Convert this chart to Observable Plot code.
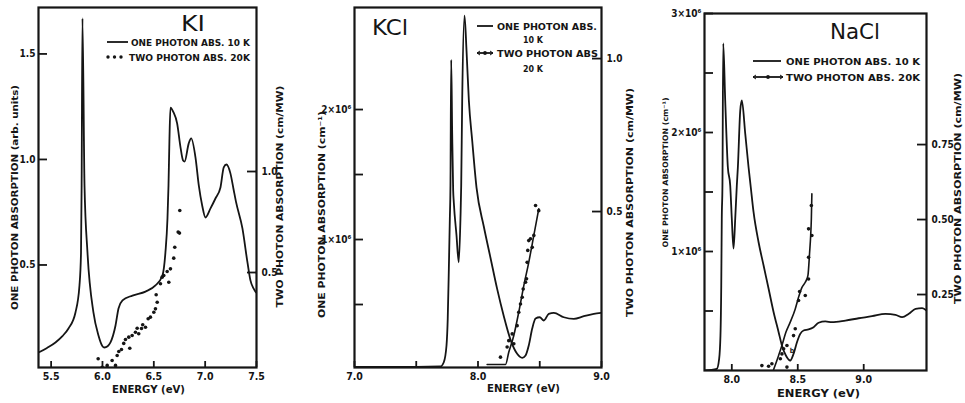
<!DOCTYPE html>
<html><head><meta charset="utf-8">
<script src="https://cdn.jsdelivr.net/npm/d3@7"></script>
<script src="https://cdn.jsdelivr.net/npm/@observablehq/plot@0.6"></script>
<style>
body{margin:0;background:#fff;}
#wrap{position:relative;width:965px;height:403px;overflow:hidden;background:#fff;}
.panel{position:absolute;top:0;}
.panel svg{position:absolute;left:0;top:0;overflow:visible;}
#overlay{position:absolute;left:0;top:0;pointer-events:none;}
</style>
</head><body>
<div id="wrap"></div>
<script>
// ---------------- DATA ----------------
// KI : one photon absorption (arb. units) vs energy (eV)
const kiOneEnergy = [5.377,5.46,5.542,5.61,5.669,5.737,5.776,5.791,5.797,5.805,5.825,5.854,5.912,5.961,6.0,6.019,6.05,6.078,6.127,6.156,6.195,6.292,6.419,6.516,6.584,6.613,6.633,6.643,6.652,6.662,6.69,6.727,6.76,6.785,6.8,6.84,6.864,6.906,6.938,6.971,7.003,7.052,7.1,7.149,7.181,7.207,7.246,7.276,7.3,7.363,7.412,7.441,7.47,7.495];
const kiOneAbs    = [0.085,0.107,0.133,0.163,0.199,0.275,0.403,0.559,0.877,1.668,0.877,0.559,0.275,0.166,0.115,0.109,0.115,0.133,0.213,0.294,0.332,0.355,0.374,0.403,0.45,0.559,0.72,0.877,1.09,1.246,1.225,1.171,1.057,0.995,0.99,1.076,1.1,1.009,0.877,0.782,0.725,0.768,0.815,0.867,0.962,0.976,0.934,0.86,0.8,0.673,0.512,0.427,0.39,0.37];
// KI : two photon absorption (cm/MW)
const kiTwoEnergy = [5.958,5.997,6.046,6.094,6.127,6.143,6.159,6.185,6.207,6.224,6.256,6.266,6.289,6.321,6.338,6.353,6.38,6.392,6.419,6.445,6.467,6.5,6.516,6.523,6.533,6.565,6.581,6.597,6.63,6.646,6.662,6.694,6.704,6.737,6.75,6.753];
const kiTwoAbs    = [0.073,0.031,0.04,0.064,0.04,0.089,0.109,0.119,0.149,0.168,0.18,0.125,0.188,0.204,0.224,0.197,0.223,0.241,0.229,0.271,0.279,0.303,0.32,0.39,0.353,0.444,0.477,0.485,0.505,0.452,0.518,0.571,0.625,0.7,0.695,0.807];

// KCl : one photon absorption (10^6 cm^-1)
const kclOneEnergy = [7.0,7.5,7.696,7.723,7.745,7.755,7.764,7.772,7.777,7.783,7.791,7.799,7.804,7.826,7.844,7.858,7.864,7.872,7.891,7.907,7.926,7.953,7.988,8.047,8.101,8.155,8.209,8.263,8.317,8.358,8.385,8.411,8.439,8.466,8.5,8.533,8.573,8.614,8.695,8.776,8.857,8.938,9.0];
const kclOneAbs    = [0.02,0.02,0.023,0.056,0.185,0.392,0.777,1.162,1.415,2.382,1.815,1.377,1.287,1.031,0.825,1.162,1.415,2.069,2.723,2.454,2.069,1.762,1.4,1.1,0.86,0.62,0.41,0.23,0.121,0.09,0.108,0.185,0.315,0.392,0.402,0.377,0.428,0.436,0.402,0.39,0.41,0.428,0.436];
// KCl : two photon absorption (cm/MW), fitted line and measured points
const kclTwoLineEnergy = [8.074,8.196,8.223,8.249,8.29,8.33,8.371,8.411,8.452,8.492];
const kclTwoLineAbs    = [0,0,0,0.04,0.095,0.171,0.258,0.334,0.422,0.509];
const kclTwoDotEnergy  = [8.182,8.236,8.249,8.277,8.29,8.317,8.33,8.344,8.358,8.366,8.385,8.393,8.398,8.403,8.411,8.425,8.439,8.452,8.466,8.492];
const kclTwoDotAbs     = [0.024,0.057,0.078,0.1,0.068,0.127,0.171,0.198,0.22,0.247,0.269,0.28,0.334,0.373,0.405,0.411,0.383,0.422,0.52,0.503];

// NaCl : one photon absorption (10^6 cm^-1)
const naclOneEnergy = [7.793,7.886,7.904,7.914,7.92,7.924,7.929,7.935,7.95,7.97,7.988,8.0,8.013,8.026,8.038,8.046,8.064,8.076,8.102,8.127,8.144,8.165,8.203,8.241,8.279,8.317,8.355,8.38,8.41,8.443,8.468,8.494,8.519,8.544,8.582,8.62,8.658,8.709,8.759,8.861,8.962,9.063,9.165,9.241,9.291,9.342,9.393,9.443,9.476];
const naclOneAbs    = [0,0.014,0.098,0.294,0.714,1.277,1.555,2.748,2.269,1.708,1.555,1.275,1.025,1.277,1.555,1.708,2.185,2.269,1.989,1.708,1.538,1.33,1.078,0.882,0.687,0.49,0.322,0.21,0.126,0.084,0.14,0.238,0.308,0.336,0.345,0.364,0.401,0.412,0.406,0.42,0.439,0.456,0.476,0.468,0.448,0.476,0.518,0.524,0.504];
// NaCl : two photon absorption (cm/MW)
const naclTwoLineEnergy = [8.317,8.355,8.38,8.41,8.443,8.481,8.506,8.532,8.557,8.577,8.59,8.598,8.603,8.607];
const naclTwoLineAbs    = [0,0.047,0.08,0.124,0.158,0.202,0.241,0.274,0.291,0.313,0.391,0.447,0.502,0.586];
const naclTwoDotEnergy  = [8.228,8.279,8.304,8.368,8.38,8.393,8.418,8.418,8.468,8.481,8.506,8.514,8.557,8.582,8.582,8.582,8.607,8.603];
const naclTwoDotAbs     = [0.013,0.011,0.019,0.036,0.052,0.069,0.08,0.008,0.113,0.136,0.23,0.26,0.247,0.302,0.374,0.469,0.447,0.547];

// ticks
const kiXTicks = [5.5,6.0,6.5,7.0,7.5];
const kiLeftTicks = [0.5,1.0,1.5];
const kiRightTicks = [0.5,1.0];
const kclXTicks = [7.0,7.5,8.0,8.5,9.0];
const kclXLabeled = [7.0,8.0,9.0];
const kclLeftTicks = [0.5,1,1.5,2];
const kclLeftLabeled = [1,2];
const kclRightTicks = [0.5,1.0];
const naclXTicks = [8.0,8.5,9.0];
const naclLeftTicks = [0.5,1,1.5,2,2.5,3];
const naclLeftLabeled = [1,2,3];
const naclRightTicks = [0.25,0.5,0.75];

// texts
const titles = ["KI","KCl","NaCl"];
const energyLabel = "ENERGY (eV)";
const oneLabelKI = "ONE PHOTON ABSORPTION (arb. units)";
const oneLabelCm = "ONE PHOTON ABSORPTION (cm\u207B\u00B9)";
const twoLabel = "TWO PHOTON ABSORPTION (cm/MW)";

// ---------------- BUILD ----------------
const zip = (e, a) => e.map((d, i) => ({e: d, a: a[i]}));
const FONT = '"DejaVu Sans Condensed","Liberation Sans Narrow","DejaVu Sans",sans-serif';
const INK = "#151515";
const f1 = d3.format(".1f");
const f2 = d3.format(".2f");
const sci = labeled => d => labeled.includes(d) ? `${d}\u00D710\u2076` : "";
const lab = labeled => d => labeled.includes(d) ? f1(d) : "";

const panels = [
  {left: 0, width: 300, ml: 38, mr: 44, mt: 7, mb: 36,
   xDomain: [5.377, 7.5], yDomain: [0.0142, 1.72], y2Domain: [0.0297, 1.812],
   one: zip(kiOneEnergy, kiOneAbs), twoDots: zip(kiTwoEnergy, kiTwoAbs), twoLine: null,
   xTicks: kiXTicks, xFmt: f1, yTicks: kiLeftTicks, yFmt: f1, y2Ticks: kiRightTicks, y2Fmt: f1,
   yLabel: oneLabelKI, yLab: {dx: -23, dy: 10, len: 225, size: 8.5},
   y2Lab: {dx: 24, dy: 9, len: 222, size: 8.5},
   xLab: {dx: 1, dy: 22, len: 73}},
  {left: 310, width: 330, ml: 44, mr: 39, mt: 7, mb: 36,
   xDomain: [7.0, 9.0], yDomain: [0.0154, 2.785], y2Domain: [-0.0098, 1.167],
   one: zip(kclOneEnergy, kclOneAbs), twoDots: zip(kclTwoDotEnergy, kclTwoDotAbs), twoLine: zip(kclTwoLineEnergy, kclTwoLineAbs),
   xTicks: kclXTicks, xFmt: lab(kclXLabeled), yTicks: kclLeftTicks, yFmt: sci(kclLeftLabeled), y2Ticks: kclRightTicks, y2Fmt: f1,
   yLabel: oneLabelCm, yLab: {dx: -32, dy: 27, len: 207, size: 8.5},
   y2Lab: {dx: 29, dy: 15, len: 229, size: 8.5},
   xLab: {dx: 45.5, dy: 21, len: 73}},
  {left: 640, width: 325, ml: 64, mr: 39, mt: 13, mb: 33,
   xDomain: [7.793, 9.476], yDomain: [0, 3.0], y2Domain: [-0.0033, 1.187],
   one: zip(naclOneEnergy, naclOneAbs), twoDots: zip(naclTwoDotEnergy, naclTwoDotAbs), twoLine: zip(naclTwoLineEnergy, naclTwoLineAbs),
   xTicks: naclXTicks, xFmt: f1, yTicks: naclLeftTicks, yFmt: sci(naclLeftLabeled), y2Ticks: naclRightTicks, y2Fmt: f2,
   yLabel: oneLabelCm, yLab: {dx: -39, dy: -19.5, len: 150, size: 7.5},
   y2Lab: {dx: 32, dy: -3.5, len: 231, size: 8.5},
   xLab: {dx: 3, dy: 23, len: 83}}
];

function fitTexts(svg, map) {
  svg.querySelectorAll("text").forEach(t => {
    const k = t.textContent;
    if (map[k] !== undefined) {
      t.setAttribute("textLength", map[k]);
      t.setAttribute("lengthAdjust", "spacingAndGlyphs");
    }
  });
}

const wrap = document.getElementById("wrap");
panels.forEach(p => {
  const fw = p.width - p.ml - p.mr;          // frame width (px)
  const fh = 403 - p.mt - p.mb;              // frame height (px)
  const common = {
    width: p.width, height: 403,
    marginLeft: p.ml, marginRight: p.mr, marginTop: p.mt, marginBottom: p.mb,
    style: {fontFamily: FONT, fontSize: "10px", fontWeight: "bold", color: INK, background: "transparent", overflow: "visible"}
  };
  const a = Plot.plot({
    ...common,
    x: {domain: p.xDomain, label: null},
    y: {domain: p.yDomain, label: null},
    marks: [
      Plot.frame({stroke: INK, strokeWidth: 2.2}),
      Plot.line(p.one, {x: "e", y: "a", stroke: INK, strokeWidth: 1.8, curve: "monotone-x", clip: true}),
      // inward tick marks
      Plot.tickX(p.xTicks, {x: d => d, insetTop: fh - 6, stroke: INK, strokeWidth: 1.8}),
      Plot.tickY(p.yTicks, {y: d => d, insetRight: fw - 9, stroke: INK, strokeWidth: 1.8}),
      // tick labels
      Plot.axisX({ticks: p.xTicks, tickFormat: p.xFmt, tickSize: 0, tickPadding: 5, fontSize: 10.5, label: null}),
      Plot.axisY({anchor: "left", ticks: p.yTicks, tickFormat: p.yFmt, tickSize: 0, tickPadding: 3, fontSize: 10, label: null}),
      Plot.text([p.yLabel], {text: d => d, frameAnchor: "left", rotate: -90, dx: p.yLab.dx, dy: p.yLab.dy, textAnchor: "middle", lineAnchor: "middle", fontSize: p.yLab.size, fill: INK}),
      Plot.text([energyLabel], {text: d => d, frameAnchor: "bottom", dx: p.xLab.dx, dy: p.xLab.dy, textAnchor: "middle", lineAnchor: "middle", fontSize: 10, fill: INK})
    ]
  });
  const bMarks = [];
  if (p.twoLine) bMarks.push(Plot.line(p.twoLine, {x: "e", y: "a", stroke: INK, strokeWidth: 1.6, curve: "monotone-x", clip: true}));
  bMarks.push(Plot.dot(p.twoDots, {x: "e", y: "a", r: 1.8, fill: INK, stroke: "none", clip: true}));
  bMarks.push(Plot.tickY(p.y2Ticks, {y: d => d, insetLeft: fw - 9, stroke: INK, strokeWidth: 1.8}));
  bMarks.push(Plot.axisY({anchor: "right", ticks: p.y2Ticks, tickFormat: p.y2Fmt, tickSize: 0, tickPadding: 5, fontSize: 10, label: null}));
  bMarks.push(Plot.text([twoLabel], {text: d => d, frameAnchor: "right", rotate: -90, dx: p.y2Lab.dx, dy: p.y2Lab.dy, textAnchor: "middle", lineAnchor: "middle", fontSize: p.y2Lab.size, fill: INK}));
  if (p.left === 640) bMarks.push(Plot.text(["b"], {text: d => d, x: () => 8.457, y: () => 0.062, fontSize: 7, fill: INK}));
  const b = Plot.plot({
    ...common,
    x: {domain: p.xDomain, axis: null, label: null},
    y: {domain: p.y2Domain, label: null},
    marks: bMarks
  });
  fitTexts(a, {[p.yLabel]: p.yLab.len, [energyLabel]: p.xLab.len});
  fitTexts(b, {[twoLabel]: p.y2Lab.len});
  const div = document.createElement("div");
  div.className = "panel";
  div.style.left = p.left + "px";
  div.style.width = p.width + "px";
  div.style.height = "403px";
  div.appendChild(a);
  div.appendChild(b);
  wrap.appendChild(div);
});

// ---------------- TITLES & LEGENDS (overlay) ----------------
const ov = d3.select(wrap).append("svg").attr("id", "overlay").attr("width", 965).attr("height", 403)
  .style("font-family", FONT).style("font-weight", "bold").attr("fill", INK);
const titleSpec = [
  {t: titles[0], x: 193, y: 24, len: 24},
  {t: titles[1], x: 390, y: 28, len: 36},
  {t: titles[2], x: 855, y: 32, len: 50}
];
titleSpec.forEach(s => ov.append("text").attr("x", s.x).attr("y", s.y).attr("text-anchor", "middle")
  .attr("dominant-baseline", "central").attr("font-size", 21).attr("font-weight", "normal")
  .attr("textLength", s.len).attr("lengthAdjust", "spacingAndGlyphs").text(s.t));

const legend = [
  {kind: "line", x1: 107, x2: 128, y: 42, text: "ONE PHOTON ABS. 10 K", tx: 131, len: 119},
  {kind: "dots", x1: 108, x2: 121, y: 57, text: "TWO PHOTON ABS. 20K", tx: 129, len: 121},
  {kind: "line", x1: 477, x2: 493, y: 26, text: "ONE PHOTON ABS.", tx: 497, len: 100},
  {kind: "none", y: 39, text: "10 K", tx: 523, len: 20},
  {kind: "linedot", x1: 477, x2: 493, y: 53, text: "TWO PHOTON ABS", tx: 497, len: 101},
  {kind: "none", y: 68, text: "20 K", tx: 523, len: 20},
  {kind: "line", x1: 753, x2: 781, y: 61, text: "ONE PHOTON ABS. 10 K", tx: 786, len: 134},
  {kind: "linedot", x1: 753, x2: 783, y: 77, text: "TWO PHOTON ABS. 20K", tx: 786, len: 134}
];
legend.forEach(l => {
  if (l.kind === "line" || l.kind === "linedot")
    ov.append("line").attr("x1", l.x1).attr("x2", l.x2).attr("y1", l.y).attr("y2", l.y).attr("stroke", INK).attr("stroke-width", 1.8);
  if (l.kind === "linedot") {
    ov.append("circle").attr("cx", (l.x1 + l.x2) / 2).attr("cy", l.y).attr("r", 1.9);
    ov.append("path").attr("d", `M${l.x1 + 3},${l.y - 2}L${l.x1},${l.y}L${l.x1 + 3},${l.y + 2}M${l.x2 - 3},${l.y - 2}L${l.x2},${l.y}L${l.x2 - 3},${l.y + 2}`)
      .attr("stroke", INK).attr("fill", "none").attr("stroke-width", 1);
  }
  if (l.kind === "dots") {
    [0, 0.5, 1].forEach(t => ov.append("circle").attr("cx", l.x1 + t * (l.x2 - l.x1)).attr("cy", l.y).attr("r", 1.7));
  }
  ov.append("text").attr("x", l.tx).attr("y", l.y).attr("dominant-baseline", "central").attr("font-size", 9.5)
    .attr("textLength", l.len).attr("lengthAdjust", "spacingAndGlyphs").text(l.text);
});
</script>
</body></html>
